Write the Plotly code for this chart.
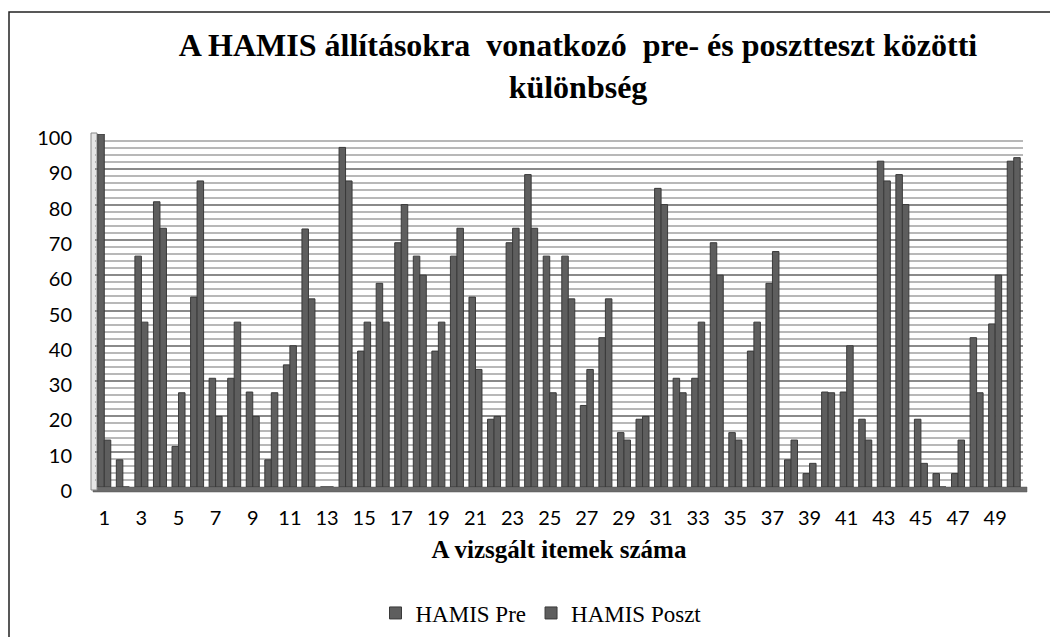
import plotly.graph_objects as go

items = list(range(1, 51))
hamis_pre = [100, 7.7, 65.4, 80.8, 11.5, 53.8, 30.8, 30.8, 26.9, 7.7,
             34.6, 73.1, 0, 96.2, 38.5, 57.7, 69.2, 65.4, 38.5, 65.4,
             53.8, 19.2, 69.2, 88.5, 65.4, 65.4, 23.1, 42.3, 15.4, 19.2,
             84.6, 30.8, 30.8, 69.2, 15.4, 38.5, 57.7, 7.7, 3.8, 26.9,
             26.9, 19.2, 92.3, 88.5, 19.2, 3.8, 3.8, 42.3, 46.2, 92.3]
hamis_poszt = [13.3, 0, 46.7, 73.3, 26.7, 86.7, 20, 46.7, 20, 26.7,
               40, 53.3, 0, 86.7, 46.7, 46.7, 80, 60, 46.7, 73.3,
               33.3, 20, 73.3, 73.3, 26.7, 53.3, 33.3, 53.3, 13.3, 20,
               80, 26.7, 46.7, 60, 13.3, 46.7, 66.7, 13.3, 6.7, 26.7,
               40, 13.3, 86.7, 80, 6.7, 0, 13.3, 26.7, 60, 93.3]
x_ticks = list(range(1, 50, 2))
y_ticks = list(range(0, 101, 10))

OFF = 8  # page body margin
W, H = 1058 - OFF, 637 - OFF
L, T = 95 - OFF, 134 - OFF
R = W - (1023 - OFF)
B = H - (487 - OFF)
pw, ph = W - L - R, H - T - B

def px(x):
    return (x - OFF - L) / pw

def py(y):
    return (H - B - (y - OFF)) / ph

bar_color = "#5e5e5e"
edge = "#3a3a3a"

fig = go.Figure()
fig.add_trace(go.Bar(x=items, y=hamis_pre, name="HAMIS Pre",
                     marker=dict(color=bar_color, line=dict(color=edge, width=1))))
fig.add_trace(go.Bar(x=items, y=hamis_poszt, name="HAMIS Poszt",
                     marker=dict(color=bar_color, line=dict(color=edge, width=1))))

shapes = [
    dict(type="rect", xref="paper", yref="paper", x0=px(9), x1=px(1070), y0=py(12), y1=py(650),
         line=dict(color="#222", width=1.5), fillcolor="rgba(0,0,0,0)", layer="below"),
    dict(type="rect", xref="paper", yref="paper", x0=px(93), x1=px(1027), y0=py(487), y1=py(492),
         line=dict(color="#555", width=0.5), fillcolor="#6b6b6b", layer="below"),
    dict(type="rect", xref="paper", yref="paper", x0=px(91), x1=px(97), y0=py(490), y1=py(133),
         line=dict(color="#888", width=1), fillcolor="#e6e6e6", layer="below"),
]

fig.update_layout(
    width=W, height=H,
    margin=dict(l=L, r=R, t=T, b=B, autoexpand=False),
    paper_bgcolor="white", plot_bgcolor="white",
    barmode="group", bargap=0.3, bargroupgap=0,
    shapes=shapes,
    title=dict(text="A HAMIS állításokra  vonatkozó  pre- és posztteszt közötti<br>különbség",
               x=px(578), xref="paper", xanchor="center",
               y=1 - 48 / H, yref="container", yanchor="middle",
               font=dict(family="Liberation Serif", size=32, color="black", weight="bold")),
    legend=dict(orientation="h", x=px(541), xanchor="center", y=py(613), yanchor="middle",
                font=dict(family="Liberation Serif", size=23, color="black"),
                traceorder="normal", itemwidth=30),
    xaxis=dict(range=[0.5, 50.5], tickmode="array", tickvals=x_ticks,
               ticktext=[str(v) for v in x_ticks], showgrid=False, zeroline=False,
               showline=False, ticks="", ticklabelstandoff=17,
               tickfont=dict(family="Lato", size=20, color="black"),
               title=dict(text="A vizsgált itemek száma", standoff=12,
                          font=dict(family="Liberation Serif", size=25, color="black", weight="bold"))),
    yaxis=dict(range=[0, 100], tickmode="array", tickvals=y_ticks,
               showgrid=True, gridcolor="#8a8a8a", gridwidth=2,
               minor=dict(dtick=2, tick0=0, showgrid=True, gridcolor="#b8b8b8", gridwidth=2),
               zeroline=False, showline=False, ticks="", ticklabelstandoff=22,
               ticklabelshift=4,
               tickfont=dict(family="Lato", size=20, color="black")),
)

fig.write_html("out.html")
